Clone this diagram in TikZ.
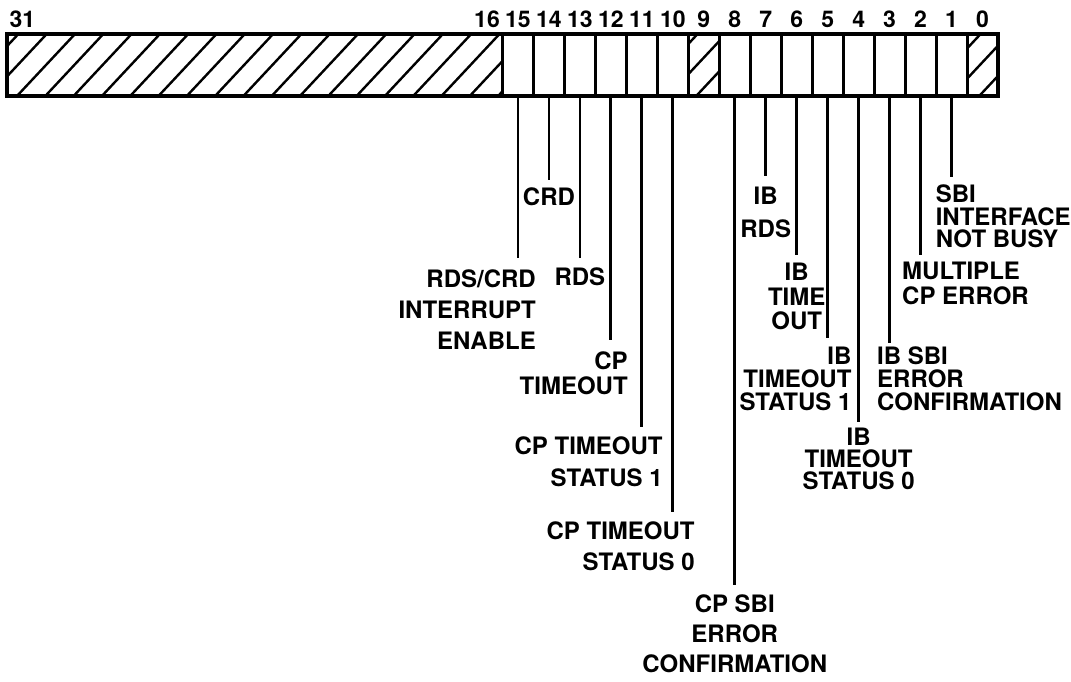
\documentclass[tikz,border=0pt]{standalone}
\usepackage{fontspec}
\setmainfont{TeX Gyre Heros}
\usetikzlibrary{positioning}
\newcommand{\bw}{30.97}
\tikzset{
  bitnum/.style={font=\bfseries\fontsize{23}{23}\selectfont, inner sep=0pt, anchor=base},
  lbl/.style={font=\bfseries\fontsize{24}{#1}\selectfont, inner sep=0pt},
  tick/.style={line width=2.8pt},
  hatch/.style={line width=2.4pt},
  cell/.style={line width=3pt},
}
\begin{document}
\begin{tikzpicture}[x=1pt, y=-1pt]
    \useasboundingbox (0,0) rectangle (1071,681);
    %campi tratteggiati (31-16, 9, 0)
    \begin{scope}
        \clip ({998-32*\bw},34) rectangle ({998-16*\bw},96)
              ({998-10*\bw},34) rectangle ({998-9*\bw},96)
              ({998-\bw},34) rectangle (998,96);
        \foreach \k in {-3,...,36}
            \draw[hatch] ({17+28.3*\k},96) -- ++(58,-62);
    \end{scope}
    %registro
    \draw[line width=3.3pt] ({998-32*\bw},34) rectangle (998,96);
    \foreach \i in {1,...,16}
        \draw[cell] ({998-\i*\bw},34) -- ({998-\i*\bw},96);
    %numeri dei bit
    \node[bitnum] (n31) at ({998-31.5*\bw},27) {31};
    \foreach \i in {0,...,16}
        \node[bitnum] (n\i) at ({998-(\i+0.5)*\bw},27) {\i};
    %linee verso le etichette
    \foreach \i/\y in {15/258,14/180,13/258,12/340,11/427,10/512,8/585,
                       7/176,6/255,5/338,4/422,3/343,2/255,1/177} {
        \coordinate (b\i) at ({998-(\i+0.5)*\bw},96);
        \coordinate (e\i) at (b\i |- 0,\y);
        \draw[tick] (b\i) -- (e\i);
    }
    %etichette
    \node[lbl=31, align=right, below left=12pt and -18pt of e15] (l15) {RDS/CRD\\INTERRUPT\\ENABLE};
    \node[lbl=31, below=8pt of e14] (l14) {CRD};
    \node[lbl=31, below=10pt of e13] (l13) {RDS};
    \node[lbl=25, align=right, below left=12pt and -17pt of e12] (l12) {CP\\TIMEOUT};
    \node[lbl=32, align=right, below left=10pt and -21pt of e11] (l11) {CP TIMEOUT\\STATUS 1};
    \node[lbl=31, align=right, below left=10pt and -22pt of e10] (l10) {CP TIMEOUT\\STATUS 0};
    \node[lbl=30, align=center, below=10pt of e8] (l8) {CP SBI\\ERROR\\CONFIRMATION};
    \node[lbl=33, align=center, below=11pt of e7] (l7) {IB\\RDS};
    \node[lbl=24.5, align=center, below=8pt of e6] (l6) {IB\\TIME\\OUT};
    \node[lbl=23, align=right, below left=9pt and -24pt of e5] (l5) {IB\\TIMEOUT\\STATUS 1};
    \node[lbl=22, align=center, below=6pt of e4] (l4) {IB\\TIMEOUT\\STATUS 0};
    \node[lbl=23, align=left, below right=4pt and -12.6pt of e3] (l3) {IB SBI\\ERROR\\CONFIRMATION};
    \node[lbl=25, align=left, below right=7pt and -18.6pt of e2] (l2) {MULTIPLE\\CP ERROR};
    \node[lbl=22.5, align=left, below right=8pt and -16pt of e1] (l1) {SBI\\INTERFACE\\NOT BUSY};
\end{tikzpicture}
\end{document}
